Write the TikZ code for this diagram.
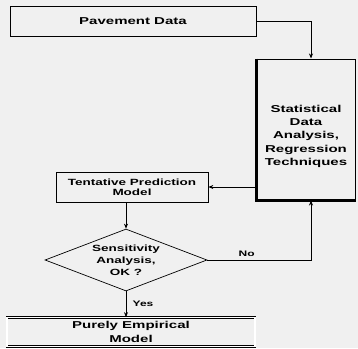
\documentclass[tikz,border=0pt]{standalone}
\usepackage{fontspec}
\setmainfont{Liberation Sans}[FakeStretch=1.5]
\usetikzlibrary{shapes.geometric, arrows.meta}
\definecolor{paper}{HTML}{F0F0F0}

\begin{document}
\begin{tikzpicture}[x=1pt, y=-1pt, >={Stealth[length=5pt,width=4pt]}, line width=0.7pt,
  block/.style={rectangle, draw, fill=paper, align=center, inner sep=2pt,
    font=\fontsize{10}{13.3}\selectfont\bfseries},
  decision/.style={diamond, draw, fill=paper, aspect=2.6, inner sep=0pt, align=center,
    font=\fontsize{9}{12}\selectfont\bfseries},
  tag/.style={font=\fontsize{8}{10}\selectfont\bfseries}]
  \fill[paper] (0,0) rectangle (358,348);
  \useasboundingbox (0,0) rectangle (358,348);

  \node[block, minimum width=246pt, minimum height=30pt] (data) at (133,21) {Pavement Data};
  \node[block, minimum width=98pt, minimum height=141pt, line width=1pt] (stat) at (306,129.5)
    {\rule{0pt}{21pt}Statistical\\Data\\Analysis,\\Regression\\Techniques};
  \node[block, minimum width=152pt, minimum height=30pt, font=\fontsize{9}{10}\selectfont\bfseries]
    (tent) at (132,187) {Tentative Prediction\\Model};
  \node[decision, minimum width=162pt, minimum height=62pt] (check) at (126,260)
    {Sensitivity\\Analysis,\\OK ?};
  \node[block, minimum width=248pt, minimum height=29pt, double, double distance=1.2pt]
    (model) at (131,332) {Purely Empirical\\Model};

  % heavy edges of the analysis box
  \draw[line width=2.5pt] (stat.north west) -- (stat.south west) -- (stat.south east);

  \draw[->] (data.east) -| ([xshift=5pt]stat.north);
  \draw[->] (stat.west |- tent.east) -- (tent.east);
  \draw[->] (tent.south -| check.north) -- (check.north);
  \draw[->] (check.east) -| node[tag, pos=0.19, above] {No} ([xshift=5pt]stat.south);
  \draw[->] (check.south) -- node[tag, right=3pt] {Yes} (check.south |- model.north);
\end{tikzpicture}
\end{document}
